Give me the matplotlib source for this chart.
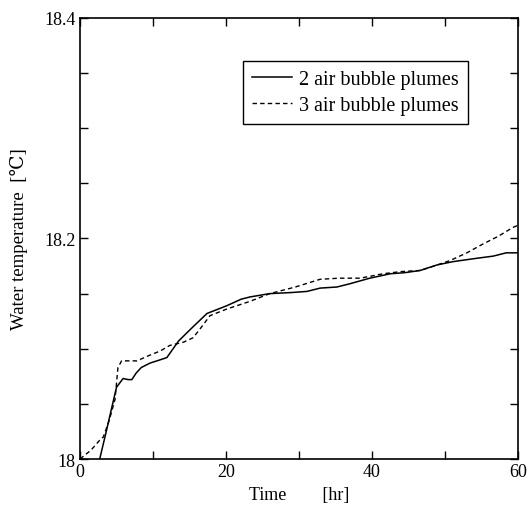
import numpy as np
import matplotlib.pyplot as plt
from matplotlib.ticker import MultipleLocator, FuncFormatter

plt.rcParams['font.family'] = ['Liberation Serif', 'DejaVu Serif']

# time [hr] and water temperature [C]
t_two = [2.7, 3.6, 4.4, 5.0, 5.9, 6.6, 7.1, 7.7, 8.4, 9.6, 11.0, 11.9, 13.5, 15.5, 17.4, 20.1, 22.1,
         23.3, 26.0, 29.0, 31.1, 32.9, 35.2, 37.0, 39.7, 42.5, 44.5, 46.6, 48.9, 51.1, 54.3, 56.6, 58.4, 60.0]
temp_two = [18.0, 18.025, 18.048, 18.065, 18.073, 18.072, 18.072, 18.078, 18.083, 18.087, 18.090, 18.092,
            18.107, 18.120, 18.132, 18.139, 18.145,
            18.147, 18.150, 18.151, 18.152, 18.155, 18.156, 18.159, 18.164, 18.168, 18.169, 18.171, 18.176,
            18.179, 18.182, 18.184, 18.187, 18.187]

t_three = [0.0, 1.5, 2.7, 3.2, 4.0, 4.8, 5.2, 5.7, 6.5, 7.8, 9.5, 11.0, 12.3, 14.2, 15.5, 16.8, 17.8, 20.1,
           23.3, 26.0, 29.5, 32.9, 35.5, 38.4, 41.5, 44.0, 46.6, 48.5, 50.7, 53.0, 55.2, 57.3, 59.3, 60.0]
temp_three = [18.0, 18.008, 18.017, 18.020, 18.035, 18.054, 18.083, 18.089, 18.089, 18.089, 18.094, 18.098,
              18.103, 18.106, 18.110, 18.121, 18.130, 18.136,
              18.143, 18.150, 18.156, 18.163, 18.164, 18.164, 18.168, 18.170, 18.171, 18.175, 18.180, 18.187,
              18.195, 18.202, 18.210, 18.212]

fig = plt.figure(figsize=(5.28, 5.06), dpi=100)
ax = fig.add_axes([0.1515, 0.0909, 0.8295, 0.8716])

ax.plot(t_two, temp_two, color='black', lw=1.1, ls='-', label='2 air bubble plumes')
ax.plot(t_three, temp_three, color='black', lw=1.0, ls=(0, (3.2, 2.3)), label='3 air bubble plumes')

ax.set_xlim(0, 60)
ax.set_ylim(18.0, 18.4)
ax.xaxis.set_major_locator(MultipleLocator(10))
ax.yaxis.set_major_locator(MultipleLocator(0.05))
ax.xaxis.set_major_formatter(FuncFormatter(lambda v, p: '%d' % round(v) if round(v) % 20 == 0 else ''))

def yfmt(v, p):
    k = round((v - 18.0) / 0.05)
    if k % 4 != 0:
        return ''
    s = '%.1f' % v
    return '18' if s == '18.0' else s

ax.yaxis.set_major_formatter(FuncFormatter(yfmt))
ax.tick_params(direction='in', length=6, width=1, top=True, right=True, labelsize=13, pad=3)
for sp in ax.spines.values():
    sp.set_linewidth(1.2)

ax.set_xlabel('Time        [hr]', fontsize=13, labelpad=4)
ax.set_ylabel('Water temperature  [℃]', fontsize=13.5, labelpad=12)

leg = ax.legend(loc='upper left', bbox_to_anchor=(0.372, 0.9025), fontsize=14.5, frameon=True,
                fancybox=False, edgecolor='black', framealpha=1, handlelength=2.0,
                handletextpad=0.35, borderpad=0.45, borderaxespad=0, labelspacing=0.35)
leg.get_frame().set_linewidth(1.0)

fig.savefig('out.png', dpi=100)
